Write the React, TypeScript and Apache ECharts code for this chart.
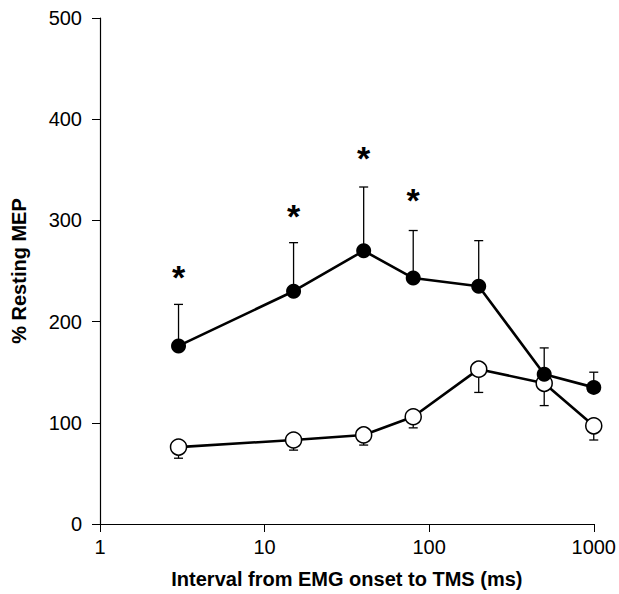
import React, { useEffect, useRef } from "react";
import * as echarts from "echarts";

const xs = [3, 15, 40, 80, 200, 500, 1000];
const filledMean = [176, 230, 270, 243, 235, 148, 135];
const filledUpper = [217, 278, 333, 290, 280, 174, 150];
const openMean = [76, 83, 88, 106, 153, 139, 97];
const openLower = [65, 73, 78, 95, 130, 117, 83];
const asteriskX = [3, 15, 40, 80];
const asteriskY = [251, 311, 369, 327];
const yTicks = [0, 100, 200, 300, 400, 500];
const xTicks = [1, 10, 100, 1000];

const FONT = "'Liberation Sans', Arial, Helvetica, sans-serif";

export default function App() {
  const ref = useRef<HTMLDivElement>(null);
  useEffect(() => {
    const chart = echarts.init(ref.current!, null, { renderer: "svg" });
    const errRender = (params: any, api: any) => {
      const x = api.value(0);
      const a = api.coord([x, api.value(1)]);
      const b = api.coord([x, api.value(2)]);
      const cap = 4.5;
      return {
        type: "group",
        children: [
          { type: "line", shape: { x1: a[0], y1: a[1], x2: b[0], y2: b[1] }, style: { stroke: "#000", lineWidth: 1.3 } },
          { type: "line", shape: { x1: b[0] - cap, y1: b[1], x2: b[0] + cap, y2: b[1] }, style: { stroke: "#000", lineWidth: 1.3 } },
        ],
      };
    };
    chart.setOption({
      animation: false,
      grid: { left: 100, right: 24, top: 18, bottom: 70 },
      xAxis: {
        type: "log",
        logBase: 10,
        min: xTicks[0],
        max: xTicks[xTicks.length - 1],
        name: "Interval from EMG onset to TMS (ms)",
        nameLocation: "middle",
        nameGap: 45,
        nameTextStyle: { fontFamily: FONT, fontWeight: "bold", fontSize: 20, color: "#000" },
        axisLine: { lineStyle: { color: "#000", width: 1.2 } },
        axisTick: { show: true, length: 8, lineStyle: { color: "#000" } },
        minorTick: { show: false },
        splitLine: { show: false },
        axisLabel: { fontFamily: FONT, fontSize: 20, color: "#000", margin: 13, formatter: (v: number) => String(v) },
      },
      yAxis: {
        type: "value",
        min: yTicks[0],
        max: yTicks[yTicks.length - 1],
        interval: 100,
        name: "% Resting MEP",
        nameLocation: "middle",
        nameGap: 71,
        nameTextStyle: { fontFamily: FONT, fontWeight: "bold", fontSize: 20, color: "#000" },
        axisLine: { show: true, lineStyle: { color: "#000", width: 1.2 } },
        axisTick: { show: true, length: 8, lineStyle: { color: "#000" } },
        splitLine: { show: false },
        axisLabel: { fontFamily: FONT, fontSize: 20, color: "#000", margin: 18 },
      },
      series: [
        {
          type: "custom",
          renderItem: errRender,
          encode: { x: 0, y: [1, 2] },
          data: xs.map((x, i) => [x, filledMean[i], filledUpper[i]]),
          z: 1,
        },
        {
          type: "custom",
          renderItem: errRender,
          encode: { x: 0, y: [1, 2] },
          data: xs.map((x, i) => [x, openMean[i], openLower[i]]),
          z: 1,
        },
        {
          type: "line",
          data: xs.map((x, i) => [x, openMean[i]]),
          symbol: "circle",
          symbolSize: 16,
          lineStyle: { color: "#000", width: 2.6 },
          itemStyle: { color: "#fff", borderColor: "#000", borderWidth: 1.5 },
          z: 2,
        },
        {
          type: "line",
          data: xs.map((x, i) => [x, filledMean[i]]),
          symbol: "circle",
          symbolSize: 15,
          lineStyle: { color: "#000", width: 2.6 },
          itemStyle: { color: "#000" },
          z: 3,
        },
        {
          type: "scatter",
          data: asteriskX.map((x, i) => [x, asteriskY[i]]),
          symbolSize: 1,
          itemStyle: { color: "#000", opacity: 0 },
          label: {
            show: true,
            position: "inside",
            formatter: "*",
            fontFamily: FONT,
            fontWeight: "bold",
            fontSize: 34,
            color: "#000",
            textBorderWidth: 0,
            opacity: 1,
            offset: [0, 7],
          },
          z: 4,
        },
      ],
    });
    return () => chart.dispose();
  }, []);
  return <div ref={ref} style={{ position: "absolute", left: 0, top: 0, width: 619, height: 594 }} />;
}
